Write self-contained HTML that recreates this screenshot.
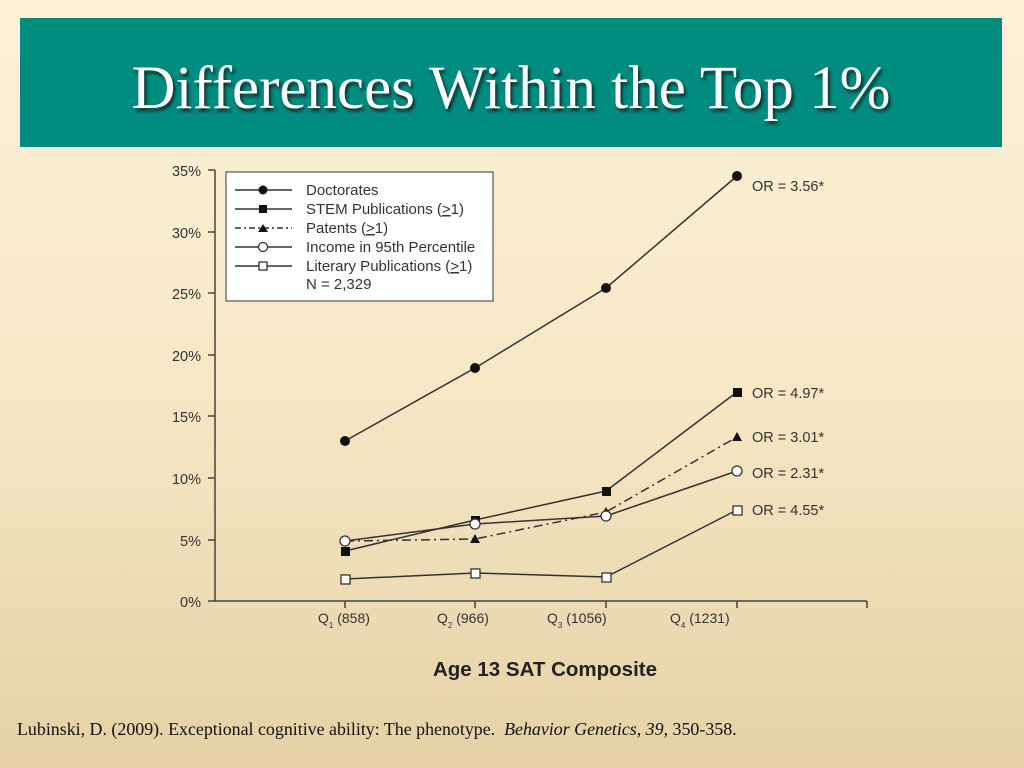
<!DOCTYPE html>
<html><head><meta charset="utf-8"><style>
html,body{margin:0;padding:0}
body{width:1024px;height:768px;overflow:hidden;background:linear-gradient(#fcf2da 0%,#f6e8c6 50%,#e5d1a5 100%);position:relative;font-family:"Liberation Sans",sans-serif}
.hdr{position:absolute;left:20px;top:18px;width:982px;height:129px;background:#008c7e}
.hdr div{position:absolute;left:0;right:0;top:40px;text-align:center;font-family:"Liberation Serif",serif;font-size:61px;color:#fff;line-height:1;text-shadow:2px 3px 3px #102a28}
.cite{position:absolute;left:17px;top:719px;font-family:"Liberation Serif",serif;font-size:17.9px;color:#111}
</style></head><body>
<div class="hdr"><div>Differences Within the Top 1%</div></div>
<svg width="1024" height="768" style="position:absolute;left:0;top:0" font-family="Liberation Sans, sans-serif" fill="#333">
<g stroke="#444" stroke-width="1.5" fill="none">
<line x1="215" y1="170" x2="215" y2="601"/>
<line x1="215" y1="601" x2="867" y2="601"/>
<line x1="208" y1="170" x2="215" y2="170"/><line x1="208" y1="232" x2="215" y2="232"/><line x1="208" y1="293" x2="215" y2="293"/><line x1="208" y1="355" x2="215" y2="355"/><line x1="208" y1="416" x2="215" y2="416"/><line x1="208" y1="478" x2="215" y2="478"/><line x1="208" y1="540" x2="215" y2="540"/><line x1="208" y1="601" x2="215" y2="601"/>
<line x1="345" y1="601" x2="345" y2="608"/><line x1="475" y1="601" x2="475" y2="608"/><line x1="606" y1="601" x2="606" y2="608"/><line x1="737" y1="601" x2="737" y2="608"/><line x1="867" y1="601" x2="867" y2="608"/>
</g>
<g font-size="14.5" text-anchor="end">
<text x="201" y="176">35%</text><text x="201" y="238">30%</text><text x="201" y="299">25%</text><text x="201" y="361">20%</text><text x="201" y="422">15%</text><text x="201" y="484">10%</text><text x="201" y="546">5%</text><text x="201" y="607">0%</text>
</g>
<g font-size="14">
<text x="318" y="623">Q<tspan font-size="8" dy="5">1</tspan><tspan dy="-5"> (858)</tspan></text>
<text x="437" y="623">Q<tspan font-size="8" dy="5">2</tspan><tspan dy="-5"> (966)</tspan></text>
<text x="547" y="623">Q<tspan font-size="8" dy="5">3</tspan><tspan dy="-5"> (1056)</tspan></text>
<text x="670" y="623">Q<tspan font-size="8" dy="5">4</tspan><tspan dy="-5"> (1231)</tspan></text>
</g>
<text x="545" y="676" font-size="20.5" font-weight="bold" text-anchor="middle" fill="#222">Age 13 SAT Composite</text>
<rect x="226" y="172" width="267" height="129" fill="#fff" stroke="#555" stroke-width="1.2"/>
<g stroke="#333" stroke-width="1.5" fill="none">
<line x1="235" y1="190" x2="292" y2="190"/>
<line x1="235" y1="209" x2="292" y2="209"/>
<line x1="235" y1="228" x2="292" y2="228" stroke-dasharray="6,3,2,3"/>
<line x1="235" y1="247" x2="292" y2="247"/>
<line x1="235" y1="266" x2="292" y2="266"/>
</g>
<circle cx="263" cy="190" r="4.5" fill="#111"/>
<rect x="259" y="205" width="8" height="8" fill="#111"/>
<path d="M263,224 L268,232 L258,232Z" fill="#111"/>
<circle cx="263" cy="247" r="4.5" fill="#fff" stroke="#333" stroke-width="1.3"/>
<rect x="259" y="262" width="8" height="8" fill="#fff" stroke="#333" stroke-width="1.3"/>
<g font-size="15">
<text x="306" y="195">Doctorates</text>
<text x="306" y="214">STEM Publications (<tspan text-decoration="underline">&gt;</tspan>1)</text>
<text x="306" y="233">Patents (<tspan text-decoration="underline">&gt;</tspan>1)</text>
<text x="306" y="252">Income in 95th Percentile</text>
<text x="306" y="271">Literary Publications (<tspan text-decoration="underline">&gt;</tspan>1)</text>
<text x="306" y="289">N = 2,329</text>
</g>
<g stroke="#333" stroke-width="1.5" fill="none">
<polyline points="345,441 475,368 606,288 737,176"/>
<polyline points="345,551 475,520 606,491 737,392"/>
<polyline points="345,541 475,539 606,512 737,437" stroke-dasharray="9,4,2,4"/>
<polyline points="345,541 475,524 606,516 737,471"/>
<polyline points="345,579 475,573 606,577 737,510"/>
</g>
<g fill="#111">
<circle cx="345" cy="441" r="5"/><circle cx="475" cy="368" r="5"/><circle cx="606" cy="288" r="5"/><circle cx="737" cy="176" r="5"/>
<rect x="341" y="547" width="9" height="9"/><rect x="471" y="516" width="9" height="9"/><rect x="602" y="487" width="9" height="9"/><rect x="733" y="388" width="9" height="9"/>
<path d="M475,534 L480,543 L470,543Z"/><path d="M606,507 L611,516 L601,516Z"/><path d="M737,432 L742,441 L732,441Z"/>
</g>
<g fill="#fff" stroke="#333" stroke-width="1.3">
<circle cx="345" cy="541" r="5"/><circle cx="475" cy="524" r="5"/><circle cx="606" cy="516" r="5"/><circle cx="737" cy="471" r="5"/>
<rect x="341" y="575" width="9" height="9"/><rect x="471" y="569" width="9" height="9"/><rect x="602" y="573" width="9" height="9"/><rect x="733" y="506" width="9" height="9"/>
</g>
<g font-size="14.5">
<text x="752" y="191">OR = 3.56*</text>
<text x="752" y="398">OR = 4.97*</text>
<text x="752" y="442">OR = 3.01*</text>
<text x="752" y="478">OR = 2.31*</text>
<text x="752" y="515">OR = 4.55*</text>
</g>
</svg>
<div class="cite">Lubinski, D. (2009). Exceptional cognitive ability: The phenotype. &nbsp;<i>Behavior Genetics, 39</i>, 350-358.</div>
</body></html>
